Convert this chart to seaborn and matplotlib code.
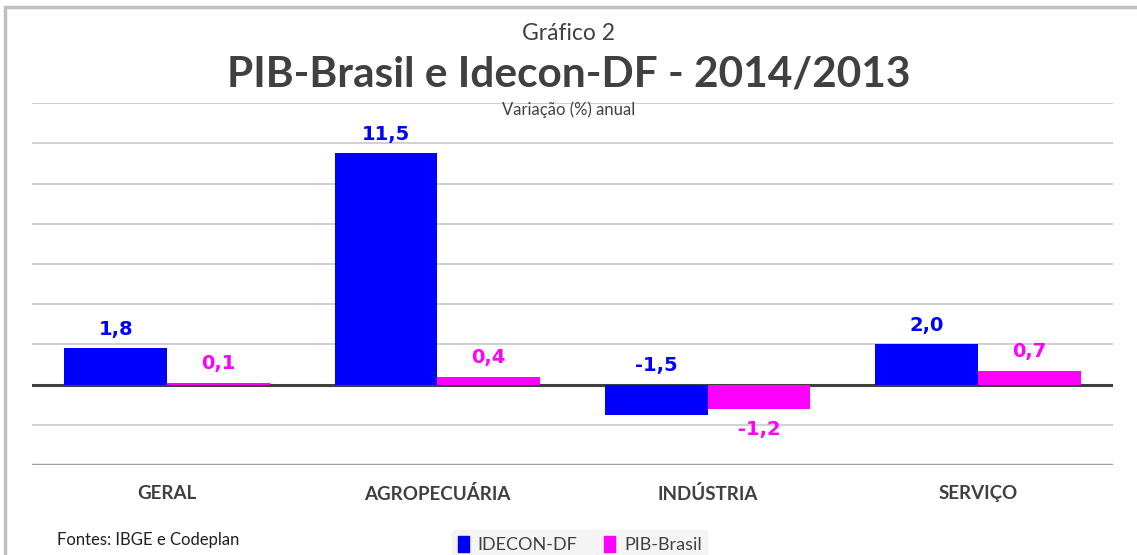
import pandas as pd
import matplotlib.pyplot as plt
import seaborn as sns
from matplotlib.patches import Rectangle

# Data
categorias = ['GERAL', 'AGROPECUÁRIA', 'INDÚSTRIA', 'SERVIÇO']
idecon_df = [1.8, 11.5, -1.5, 2.0]
pib_brasil = [0.1, 0.4, -1.2, 0.7]
series = ['IDECON-DF', 'PIB-Brasil']
cores = {'IDECON-DF': '#0000FF', 'PIB-Brasil': '#FF00FF'}

df = pd.DataFrame({
    'categoria': categorias * 2,
    'serie': [series[0]] * 4 + [series[1]] * 4,
    'valor': idecon_df + pib_brasil,
})

sns.set_style('white')
plt.rcParams['font.family'] = ['Lato', 'DejaVu Sans']

fig = plt.figure(figsize=(11.37, 5.55), dpi=100)
ax = fig.add_axes([0.028, 0.162, 0.951, 0.652])

sns.barplot(data=df, x='categoria', y='valor', hue='serie', palette=cores,
            width=0.76, saturation=1, linewidth=0, ax=ax, legend=False)
for p in ax.patches:
    p.set_zorder(3)

ax.set_ylim(-4, 14)
ax.set_yticks(range(-4, 15, 2))
ax.yaxis.grid(True, color='#c8c8c8', linewidth=1.2)
ax.set_axisbelow(True)
ax.axhline(0, color='#404040', linewidth=2.2, zorder=2)
ax.axhline(-4, color='#a0a0a0', linewidth=2.5, zorder=2)
for s in ax.spines.values():
    s.set_visible(False)
ax.tick_params(axis='y', left=False, labelleft=False)
ax.tick_params(axis='x', bottom=False, pad=11)
ax.set_xlabel('')
ax.set_ylabel('')
for lbl in ax.get_xticklabels():
    lbl.set_fontweight('bold')
    lbl.set_color('#404040')
    lbl.set_fontsize(13.5)

# value labels
for cont, nome in zip(ax.containers, series):
    for bar in cont:
        v = bar.get_height()
        x = bar.get_x() + bar.get_width() / 2
        if v >= 0 or nome == 'IDECON-DF':
            y, off, va = max(v, 0), 7, 'bottom'
        else:
            y, off, va = v, -8, 'top'
        ax.annotate(f'{v:.1f}'.replace('.', ','), (x, y), xytext=(0, off),
                    textcoords='offset points', ha='center', va=va,
                    color=cores[nome], fontsize=14, fontweight='bold',
                    family='DejaVu Sans')

# titles
fig.text(0.5, 0.940, 'Gráfico 2', ha='center', va='center', fontsize=16.5, color='#404040')
fig.text(0.5, 0.865, 'PIB-Brasil e Idecon-DF - 2014/2013', ha='center', va='center',
         fontsize=30.5, fontweight='bold', color='#404040')
fig.text(0.5, 0.802, 'Variação (%) anual', ha='center', va='center', fontsize=12, color='#404040')
fig.text(0.05, 0.012, 'Fontes: IBGE e Codeplan', ha='left', va='bottom', fontsize=12, color='#202020')

# legend
handles = [Rectangle((0, 0), 1, 1, color=cores[s]) for s in series]
leg = fig.legend(handles, series, loc='lower center', bbox_to_anchor=(0.51, -0.022),
                 ncol=2, frameon=True, fontsize=13, handlelength=0.6, handleheight=1.0,
                 columnspacing=1.5, handletextpad=0.5, borderpad=0.3)
leg.get_frame().set_facecolor('#f2f2f2')
leg.get_frame().set_edgecolor('#f2f2f2')
for t in leg.get_texts():
    t.set_color('#404040')

# outer frame
fig.add_artist(Rectangle((0.004, -0.01), 1.0, 0.997, transform=fig.transFigure,
                         fill=False, edgecolor='#c0c0c0', linewidth=2.5))

fig.savefig('out.png', dpi=100)
